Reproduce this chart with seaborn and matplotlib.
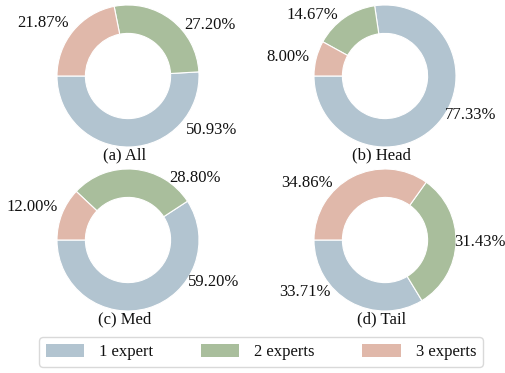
import matplotlib
matplotlib.use("Agg")
import matplotlib.pyplot as plt
import seaborn as sns

sns.set_theme(style="white")
plt.rcParams["font.family"] = ["Liberation Serif", "DejaVu Serif"]

# Share of samples routed to 1 / 2 / 3 experts, per subset
categories = ["1 expert", "2 experts", "3 experts"]
panel_titles = ["(a) All", "(b) Head", "(c) Med", "(d) Tail"]
share_all = [50.93, 27.20, 21.87]
share_head = [77.33, 14.67, 8.00]
share_med = [59.20, 28.80, 12.00]
share_tail = [33.71, 31.43, 34.86]
shares = [share_all, share_head, share_med, share_tail]

colors = ["#b2c4d0", "#a9be9c", "#e0b8aa"]

# label anchor points (in units of the pie radius) for each panel
label_pos = [
    [(1.18, -0.76), (1.15, 0.72), (-1.20, 0.75)],
    [(1.20, -0.55), (-1.03, 0.86), (-1.37, 0.27)],
    [(1.20, -0.59), (0.94, 0.87), (-1.35, 0.46)],
    [(-1.13, -0.73), (1.34, -0.03), (-1.10, 0.80)],
]

W, H = 505, 373
fig = plt.figure(figsize=(W / 100, H / 100), dpi=100)

centers = [(128, 76), (385, 76), (128, 240), (385, 240)]
R = 71
fs = 12

for (cx, cy), vals, title, pos in zip(centers, shares, panel_titles, label_pos):
    ax = fig.add_axes([(cx - R) / W, (H - cy - R) / H, 2 * R / W, 2 * R / H])
    ax.pie(vals, colors=colors, startangle=180, counterclock=True,
           radius=1.0, wedgeprops=dict(width=0.4, edgecolor="white", linewidth=0.8))
    for v, (lx, ly) in zip(vals, pos):
        ax.text(lx, ly, f"{v:.2f}%", ha="center", va="center", fontsize=fs,
                color="#111111", clip_on=False)
    ax.text(-0.05, -1.12, title, ha="center", va="center", fontsize=fs,
            color="#111111", clip_on=False)
    ax.set_xlim(-1, 1)
    ax.set_ylim(-1, 1)
    ax.set_aspect("equal")
    ax.axis("off")

handles = [plt.Rectangle((0, 0), 1, 1, facecolor=c, edgecolor="none") for c in colors]
leg = fig.legend(handles, categories, loc="center", ncol=3,
                 bbox_to_anchor=(261 / W, 1 - 352 / H), fontsize=fs,
                 frameon=True, fancybox=True, handlelength=2.3, handleheight=0.8,
                 handletextpad=0.9, columnspacing=2.85, borderpad=0.4,
                 borderaxespad=0.0)
leg.get_frame().set_edgecolor("#d0d0d0")
leg.get_frame().set_linewidth(1.0)
for t in leg.get_texts():
    t.set_color("#111111")

fig.savefig("out.png", dpi=100)
